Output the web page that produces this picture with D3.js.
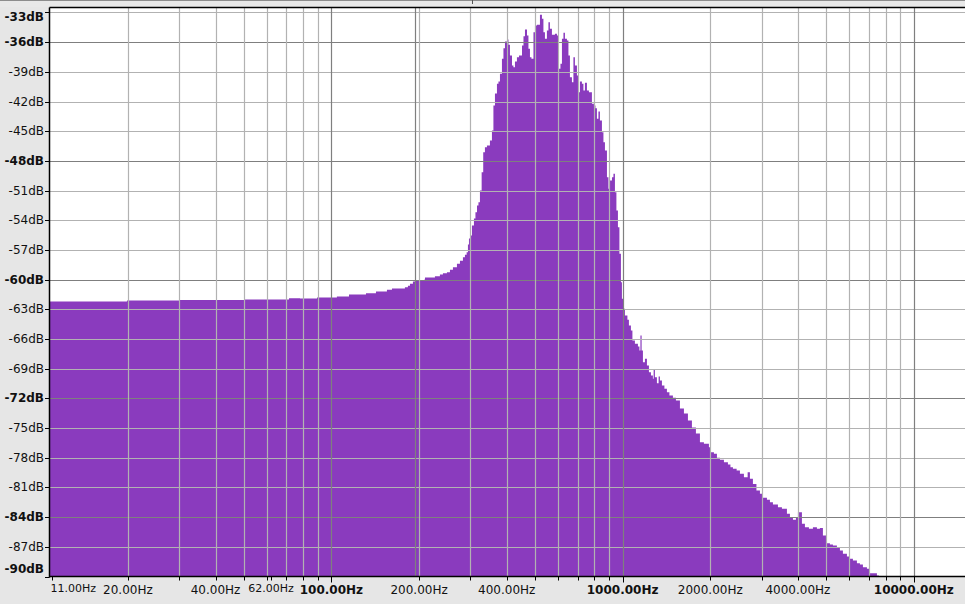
<!DOCTYPE html>
<html><head><meta charset="utf-8">
<script src="https://cdn.jsdelivr.net/npm/d3@7"></script>
<style>
html,body{margin:0;padding:0;background:#e6e6e6;}
svg{display:block;}
text{font-family:"DejaVu Sans",sans-serif;fill:#111;}
</style></head><body>
<svg id="c" width="965" height="604"></svg>
<script>
// ---- data ----
const freqHz = [10.76,19.85,30.2,50.5,71.5,78.0,89.2,104.4,114.9,131.4,142.2,155.1,161.4,178.8,183.1,186.1,190.5,193.5,207.8,209.5,226.7,235.8,241.5,249.3,255.3,261.4,269.8,276.3,282.9,287.4,291.3,294.3,296.7,300.2,303.8,308.6,312.3,316.1,319.8,323.6,328.0,332.1,336.6,342.0,350.2,355.8,360.0,364.4,370.2,374.6,379.1,385.1,389.7,394.4,400.7,405.5,410.3,416.9,421.7,426.8,433.6,440.6,451.2,456.6,462.0,469.4,474.9,480.6,486.3,494.1,500.0,507.9,520.1,528.4,534.6,541.1,549.5,556.2,562.8,571.8,585.5,594.9,604.3,611.6,618.9,626.3,633.8,643.8,651.5,659.3,669.8,677.7,685.8,696.8,705.1,713.5,724.8,733.5,742.2,754.1,766.1,784.5,797.0,806.6,816.2,825.9,835.8,849.1,859.3,869.6,883.5,894.0,904.7,919.2,930.0,941.1,952.1,963.6,975.0,986.7,994.5,1006.3,1018.3,1038.6,1051.0,1067.8,1080.6,1102.1,1128.6,1142.1,1151.2,1162.2,1174.2,1193.0,1212.0,1231.3,1251.0,1270.6,1278.0,1290.9,1311.6,1329.3,1343.1,1364.6,1391.6,1419.4,1447.8,1488.4,1524.2,1573.3,1623.9,1676.0,1729.8,1785.4,1842.8,1902.0,1978.7,2010.3,2058.6,2108.0,2158.6,2228.0,2299.6,2345.6,2392.5,2463.5,2528.5,2609.5,2687.5,2736.3,2802.0,2881.1,2961.9,3033.0,3130.4,3205.5,3282.4,3415.0,3524.5,3666.9,3754.9,3845.0,3937.3,3999.8,4128.3,4227.4,4363.5,4503.7,4648.1,4759.6,4873.8,5030.9,5151.6,5275.2,5444.2,5574.9,5708.6,5892.6,6034.0,6178.8,6377.1,6530.2,6686.9,6902.5,7068.1,7237.7,7470.2,7590];
const levelDb = [-62.21,-62.11,-62.06,-62.0,-61.87,-61.9,-61.8,-61.7,-61.5,-61.37,-61.2,-61.03,-60.9,-60.76,-60.62,-60.42,-60.19,-60.12,-60.02,-59.78,-59.65,-59.48,-59.35,-59.25,-59.0,-58.74,-58.4,-58.1,-57.73,-57.49,-57.23,-56.45,-55.84,-55.54,-54.53,-53.82,-53.2,-52.5,-52.17,-50.99,-49.14,-47.12,-46.61,-46.44,-45.94,-44.93,-42.4,-41.19,-40.21,-39.98,-39.2,-37.68,-36.61,-35.93,-35.73,-36.27,-37.35,-38.36,-38.53,-37.96,-37.52,-37.35,-36.34,-35.4,-34.72,-35.33,-36.67,-37.52,-37.68,-34.99,-34.31,-34.24,-33.23,-33.64,-34.99,-35.66,-34.82,-33.98,-34.65,-35.26,-35.16,-35.33,-38.7,-38.19,-35.66,-35.06,-35.66,-35.83,-37.35,-39.54,-40.05,-37.52,-38.36,-39.37,-41.06,-39.98,-40.21,-40.89,-40.11,-40.89,-41.06,-42.23,-42.4,-42.67,-43.75,-43.01,-43.92,-45.1,-46.11,-46.95,-49.65,-50.82,-49.98,-49.65,-49.3,-51.16,-53.01,-54.7,-57.39,-60.26,-61.94,-62.95,-63.62,-64.06,-64.63,-65.14,-66.15,-66.48,-66.76,-67.16,-65.64,-67.16,-68.34,-68.0,-68.68,-69.35,-69.69,-70.02,-69.11,-69.86,-70.47,-69.79,-70.19,-70.7,-71.03,-71.38,-71.71,-71.94,-72.21,-73.02,-73.53,-74.23,-74.94,-75.55,-76.43,-76.59,-76.93,-77.44,-77.6,-78.0,-78.21,-78.45,-78.68,-78.96,-79.12,-79.29,-79.62,-79.97,-79.46,-80.13,-80.64,-81.31,-81.65,-82.05,-82.25,-82.49,-82.72,-83.0,-83.16,-83.66,-84.01,-84.27,-84.07,-83.5,-84.67,-85.02,-85.18,-85.02,-85.18,-85.1,-85.86,-86.63,-86.77,-86.87,-87.1,-87.37,-87.71,-87.98,-88.21,-88.39,-88.66,-88.79,-89.06,-89.22,-89.67,-89.67,-89.9,-89.9];
const dbTicks = [-33,-36,-39,-42,-45,-48,-51,-54,-57,-60,-63,-66,-69,-72,-75,-78,-81,-84,-87,-90];
const dbBold = [-33,-36,-48,-60,-72,-84,-90];
const dbMajorGrid = [-36,-48,-60,-72,-84];
const hzGrid = [20,30,40,50,60,70,80,90,100,193.5,200,300,400,500,600,700,800,900,1000,2000,3000,4000,5000,6000,7000,8000,9000,10000];
const hzMajorGrid = [100,193.5,1000,10000];
const hzLabels = [11,20,40,62,100,200,400,1000,2000,4000,10000];
const hzBold = [100,1000,10000];
const hzSmall = [11,62];

// ---- layout ----
const L = 49.5, R = 965, T = 7.5, B = 576.5;
const svg = d3.select("#c");
const x = d3.scaleLog().domain([10.76, 14990]).range([L, R]);
const y = d3.scaleLinear().domain([-90, -32.5]).range([B, T]);

// top band
svg.append("rect").attr("x",0).attr("y",0).attr("width",965).attr("height",7).attr("fill","#e8e8e8");
svg.append("line").attr("x1",0).attr("x2",965).attr("y1",0.5).attr("y2",0.5).attr("stroke","#8c8c8c");
svg.append("line").attr("x1",472.5).attr("x2",472.5).attr("y1",0).attr("y2",4).attr("stroke","#555");

// plot background
svg.append("rect").attr("x",L).attr("y",T).attr("width",R-L).attr("height",B-T).attr("fill","#fff");
svg.append("clipPath").attr("id","clip").append("rect").attr("x",L).attr("y",T).attr("width",R-L).attr("height",B-T);

const pts = freqHz.map((f,i)=>({f, v: levelDb[i]}));
const area = d3.area()
  .x(d=>x(d.f))
  .y0(y(-90))
  .y1(d=>y(Math.max(-90, d.v)))
  .curve(d3.curveStepAfter);
svg.append("path").datum(pts).attr("d",area).attr("fill","#8a3bbe").attr("clip-path","url(#clip)");

// grid
const g = svg.append("g").attr("clip-path","url(#clip)");
g.selectAll("line.h").data(dbTicks.filter(d=>d>-90)).join("line")
  .attr("x1",L).attr("x2",R)
  .attr("y1",d=>Math.round(y(d))+0.5).attr("y2",d=>Math.round(y(d))+0.5)
  .attr("stroke",d=>dbMajorGrid.includes(d)?"#7f7f7f":"#b2b2b2").attr("stroke-width",1.2);
g.selectAll("line.v").data(hzGrid).join("line")
  .attr("y1",T).attr("y2",B)
  .attr("x1",d=>Math.round(x(d))+0.5).attr("x2",d=>Math.round(x(d))+0.5)
  .attr("stroke",d=>hzMajorGrid.includes(d)?"#7f7f7f":"#b2b2b2").attr("stroke-width",1.2);

// axes lines
svg.append("line").attr("x1",L).attr("x2",R).attr("y1",T).attr("y2",T).attr("stroke","#000").attr("stroke-width",1.5);
svg.append("line").attr("x1",L).attr("x2",L).attr("y1",T).attr("y2",B+1).attr("stroke","#000").attr("stroke-width",1.5);
svg.append("line").attr("x1",L).attr("x2",R).attr("y1",B).attr("y2",B).attr("stroke","#000").attr("stroke-width",1.5);

// y ticks + labels
svg.selectAll("line.yt").data(dbTicks).join("line")
  .attr("x1",45).attr("x2",L).attr("y1",d=>Math.round(y(d))+0.5).attr("y2",d=>Math.round(y(d))+0.5)
  .attr("stroke","#000");
svg.selectAll("text.yl").data(dbTicks).join("text")
  .attr("x",44).attr("y",d=>Math.min(B-8, Math.max(T+9, y(d))))
  .attr("text-anchor","end").attr("dominant-baseline","central")
  .attr("font-size",12)
  .attr("font-weight",d=>dbBold.includes(d)?"bold":"normal")
  .text(d=>d+"dB");

// x ticks + labels
const xTickVals = [11,62].concat(hzGrid.filter(d=>d!==193.5));
svg.selectAll("line.xt").data(xTickVals).join("line")
  .attr("x1",d=>Math.round(x(d))+0.5).attr("x2",d=>Math.round(x(d))+0.5)
  .attr("y1",B).attr("y2",d=>hzBold.includes(d)?B+6:B+4)
  .attr("stroke","#000");
svg.selectAll("text.xl").data(hzLabels).join("text")
  .attr("x",d=>d===11? L+1 : x(d))
  .attr("y",d=>hzSmall.includes(d)?592:594)
  .attr("text-anchor",d=>d===11?"start":"middle")
  .attr("font-size",d=>hzSmall.includes(d)?11:12)
  .attr("font-weight",d=>hzBold.includes(d)?"bold":"normal")
  .text(d=>d.toFixed(2)+"Hz");
</script>
</body></html>
